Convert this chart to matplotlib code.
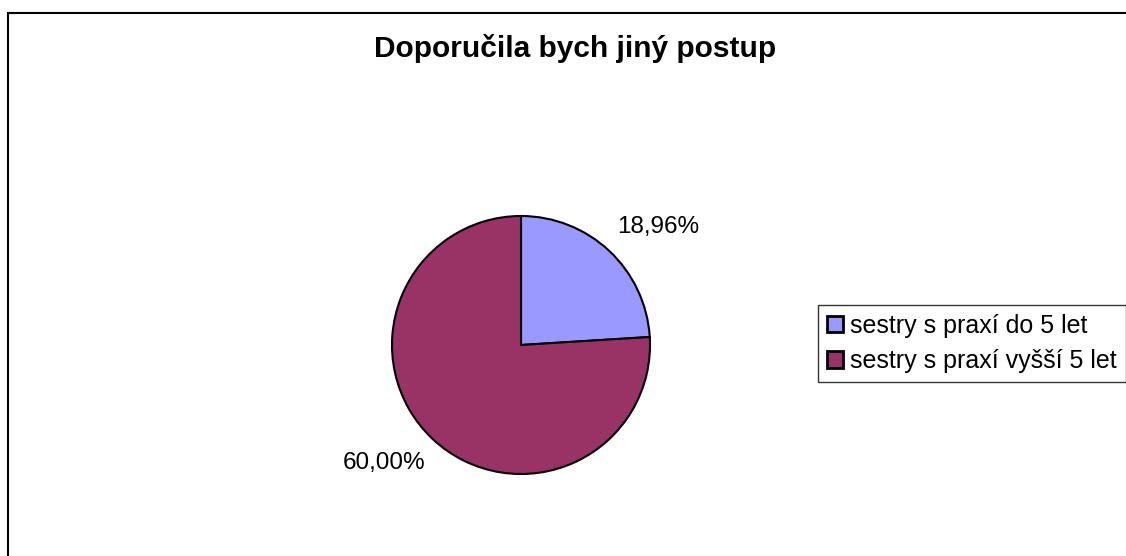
import matplotlib
matplotlib.use("Agg")
import numpy as np
import matplotlib.pyplot as plt
from matplotlib.patches import Rectangle

plt.rcParams['font.family'] = ['Liberation Sans', 'DejaVu Sans']

title = "Doporučila bych jiný postup"
categories = ["sestry s praxí do 5 let", "sestry s praxí vyšší 5 let"]
values = [18.96, 60.00]
value_labels = ["18,96%", "60,00%"]
colors = ["#9999FF", "#993366"]

W, H = 1126, 556
fig = plt.figure(figsize=(W / 100, H / 100), dpi=100)
fig.patch.set_facecolor("white")

# outer chart frame (extends past right/bottom edge)
fig.add_artist(Rectangle((8 / W, -0.1), 1.2, 1 - 13 / H + 0.1,
                         transform=fig.transFigure, fill=False,
                         edgecolor="black", linewidth=1.5))

cx, cy, r = 521, 345, 129
ax = fig.add_axes([(cx - r) / W, (H - cy - r) / H, 2 * r / W, 2 * r / H])
wedges, texts = ax.pie(values, labels=value_labels, colors=colors,
                       startangle=90, counterclock=False,
                       labeldistance=1.4,
                       wedgeprops=dict(edgecolor="black", linewidth=1.5),
                       textprops=dict(fontsize=17.5))
for w, t in zip(wedges, texts):
    ang = np.deg2rad((w.theta1 + w.theta2) / 2 - 6)
    t.set_position((1.4 * np.cos(ang), 1.4 * np.sin(ang)))
    t.set_ha("center")
    t.set_va("center")
ax.set_xlim(-1, 1)
ax.set_ylim(-1, 1)
ax.axis("off")

fig.text(575 / W, 1 - 57 / H, title, ha="center", va="baseline",
         fontsize=21.5, fontweight="bold")

leg = fig.legend(wedges, categories, loc="upper left",
                 bbox_to_anchor=(818 / W, 1 - 305 / H),
                 fontsize=18, frameon=True, fancybox=False,
                 edgecolor="black", borderpad=0.35, handlelength=0.65,
                 handleheight=0.65, handletextpad=0.3, labelspacing=0.45,
                 borderaxespad=0)
leg.get_frame().set_linewidth(1.0)
for h in leg.legend_handles:
    h.set_linewidth(2.0)

fig.savefig("out.png", dpi=100, facecolor="white")
